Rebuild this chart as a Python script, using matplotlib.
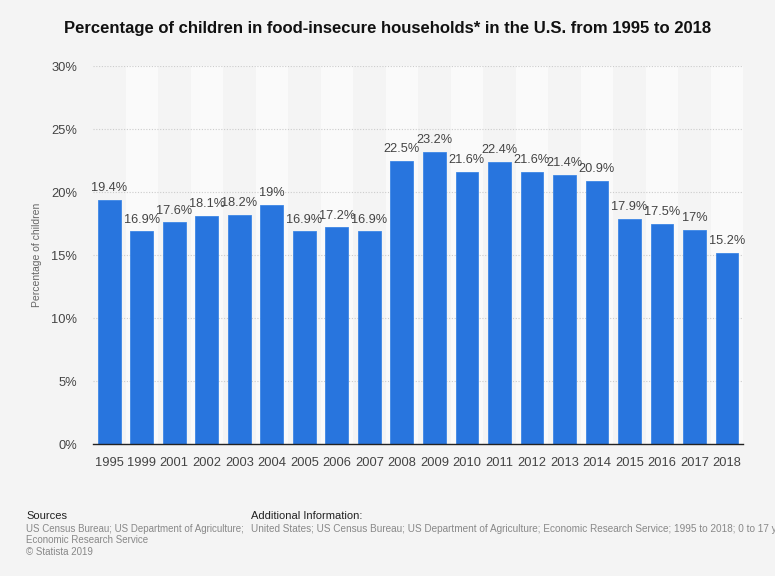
import matplotlib.pyplot as plt
import numpy as np

plt.rcParams['font.family'] = ['Liberation Sans', 'DejaVu Sans']

years = ['1995', '1999', '2001', '2002', '2003', '2004', '2005', '2006', '2007', '2008',
         '2009', '2010', '2011', '2012', '2013', '2014', '2015', '2016', '2017', '2018']
share = [19.4, 16.9, 17.6, 18.1, 18.2, 19, 16.9, 17.2, 16.9, 22.5,
         23.2, 21.6, 22.4, 21.6, 21.4, 20.9, 17.9, 17.5, 17, 15.2]
labels = ['19.4%', '16.9%', '17.6%', '18.1%', '18.2%', '19%', '16.9%', '17.2%', '16.9%', '22.5%',
          '23.2%', '21.6%', '22.4%', '21.6%', '21.4%', '20.9%', '17.9%', '17.5%', '17%', '15.2%']
yticks = [0, 5, 10, 15, 20, 25, 30]

bg = '#f4f4f4'
fig = plt.figure(figsize=(7.75, 5.76), dpi=100, facecolor=bg)
ax = fig.add_axes([0.12, 0.229, 0.839, 0.656])
ax.set_facecolor(bg)

x = np.arange(len(years))
# alternating column bands
for i in x:
    if i % 2 == 1:
        ax.axvspan(i - 0.5, i + 0.5, color='#fafafa', zorder=0, lw=0)

ax.bar(x, share, width=0.7, color='#2875de', edgecolor='#3d87e6', linewidth=0.6, zorder=3)
for xi, v, lab in zip(x, share, labels):
    ax.text(xi, v + 0.45, lab, ha='center', va='bottom', fontsize=9.2, color='#444444', zorder=4)

ax.set_xlim(-0.5, len(years) - 0.5)
ax.set_ylim(0, 30)
ax.set_yticks(yticks)
ax.set_yticklabels([f'{t}%' for t in yticks])
ax.set_xticks(x)
ax.set_xticklabels(years)
ax.tick_params(axis='both', length=0, labelsize=9.3, labelcolor='#444444')
ax.tick_params(axis='y', pad=11.5)
ax.tick_params(axis='x', pad=9)
ax.grid(axis='y', color='#cccccc', linestyle=(0, (1, 1.5)), linewidth=0.8, zorder=1)
for s in ['top', 'right', 'left']:
    ax.spines[s].set_visible(False)
ax.spines['bottom'].set_color('#222222')
ax.spines['bottom'].set_linewidth(1.0)
ax.spines['bottom'].set_zorder(5)
ax.set_ylabel('Percentage of children', fontsize=7.5, color='#666666', labelpad=6.5)

fig.text(0.5, 0.951, 'Percentage of children in food-insecure households* in the U.S. from 1995 to 2018',
         ha='center', va='center', fontsize=12, fontweight='bold', color='#111111')

fig.text(0.034, 0.104, 'Sources', fontsize=8, color='#222222', va='center')
fig.text(0.034, 0.082, 'US Census Bureau; US Department of Agriculture;', fontsize=7, color='#888888', va='center')
fig.text(0.034, 0.062, 'Economic Research Service', fontsize=7, color='#888888', va='center')
fig.text(0.034, 0.041, '\u00a9 Statista 2019', fontsize=7, color='#888888', va='center')
fig.text(0.324, 0.104, 'Additional Information:', fontsize=8, color='#222222', va='center')
fig.text(0.324, 0.082, 'United States; US Census Bureau; US Department of Agriculture; Economic Research Service; 1995 to 2018; 0 to 17 years',
         fontsize=7.2, color='#888888', va='center')

fig.savefig('out.png', dpi=100, facecolor=bg)
